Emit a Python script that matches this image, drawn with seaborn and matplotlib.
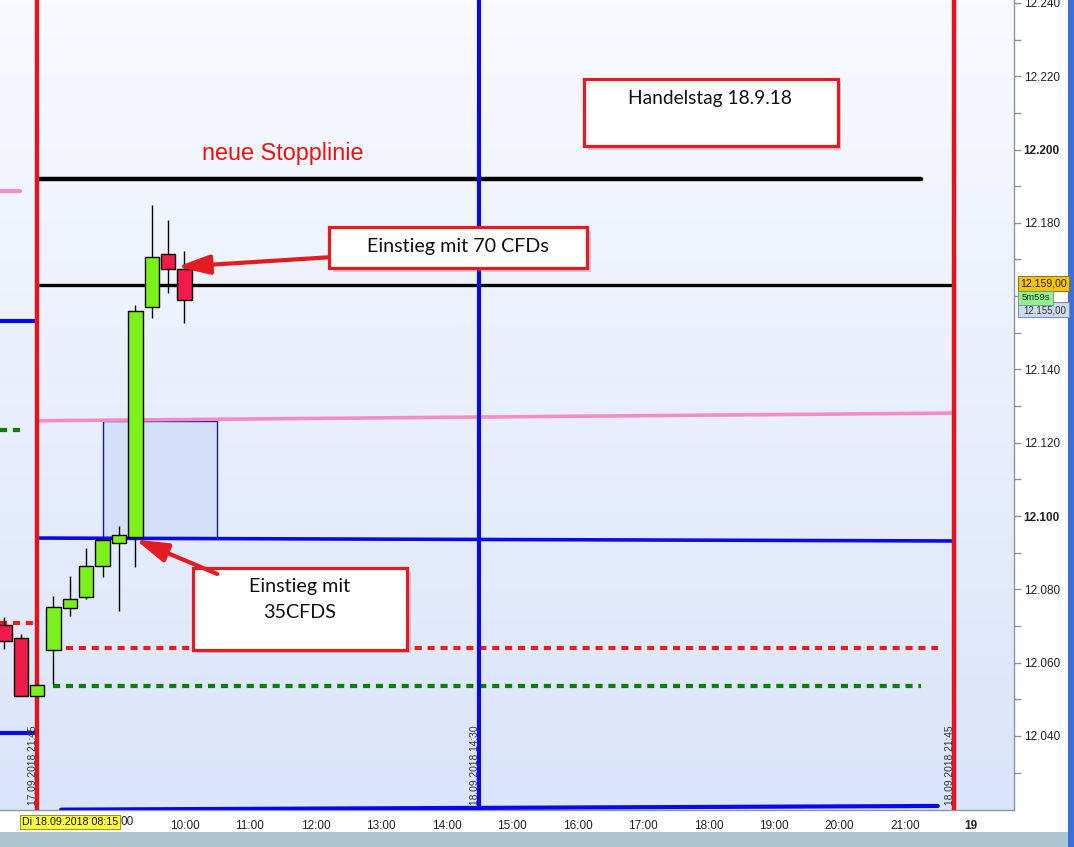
import numpy as np
import pandas as pd
import matplotlib
matplotlib.use("Agg")
import matplotlib.pyplot as plt
import seaborn as sns
from matplotlib.patches import Rectangle
from matplotlib.colors import LinearSegmentedColormap
from matplotlib.transforms import blended_transform_factory

sns.set_style("white")
plt.rcParams['font.family'] = ['Liberation Sans', 'DejaVu Sans']

# ---------------- data ----------------
bar_times = ["17.09 21:15", "17.09 21:30", "17.09 21:45",
             "18.09 08:00", "18.09 08:15", "18.09 08:30", "18.09 08:45",
             "18.09 09:00", "18.09 09:15", "18.09 09:30", "18.09 09:45", "18.09 10:00"]
opens  = [12070.3, 12066.7, 12050.9, 12063.5, 12074.9, 12077.9, 12086.4, 12092.7, 12094.3, 12157.1, 12171.5, 12167.4]
highs  = [12072.5, 12067.8, 12054.0, 12078.2, 12083.7, 12091.3, 12094.0, 12097.3, 12157.6, 12184.9, 12180.8, 12172.3]
lows   = [12063.7, 12050.9, 12050.9, 12054.2, 12072.7, 12077.5, 12083.4, 12074.1, 12086.1, 12154.1, 12160.9, 12152.7]
closes = [12065.9, 12050.9, 12053.9, 12075.2, 12077.4, 12086.4, 12093.5, 12094.8, 12156.0, 12170.7, 12167.4, 12159.0]

hour_ticks = ["08:00", "09:00", "10:00", "11:00", "12:00", "13:00", "14:00", "15:00",
              "16:00", "17:00", "18:00", "19:00", "20:00", "21:00", "22:00"]
hour_labels = ["", "", "10:00", "11:00", "12:00", "13:00", "14:00", "15:00",
               "16:00", "17:00", "18:00", "19:00", "20:00", "21:00", "19"]

y_major = [12040, 12060, 12080, 12100, 12120, 12140, 12160, 12180, 12200, 12220, 12240]
y_bold = [12100, 12200]
y_hidden = [12160]   # covered by the price tags in the original

# level lines: (start time, end time, start value, end value)
black_top = ("17.09 21:45", "18.09 21:15", 12192.0, 12192.0)
black_low = ("17.09 21:45", "18.09 21:45", 12163.1, 12163.1)
pink_line = ("17.09 21:45", "18.09 21:45", 12126.0, 12128.1)
blue_line = ("17.09 21:45", "18.09 21:45", 12094.0, 12093.2)
blue_bottom = ("18.09 08:07", "18.09 21:30", 12019.9, 12020.9)
red_dash = ("18.09 08:00", "18.09 21:30", 12064.0, 12064.0)
green_dash = ("18.09 08:00", "18.09 21:15", 12053.6, 12053.6)
prev_pink = 12188.7
prev_blue_hi = 12153.2
prev_blue_lo = 12040.8
prev_red_dash = 12070.8
prev_green_dash = 12123.5
zone = ("18.09 08:45", "18.09 10:30", 12094.0, 12126.0)

vlines_red = ["17.09 21:45", "18.09 21:45"]
vline_blue = "18.09 14:30"


def slot(t):
    day, hm = t.split()
    h, m = map(int, hm.split(":"))
    mins = h * 60 + m
    if day.startswith("17"):
        return (mins - 22 * 60) / 15.0
    return (mins - 8 * 60) / 15.0


xs = np.array([slot(t) for t in bar_times])

# ---------------- figure ----------------
W, H = 1074, 847
fig = plt.figure(figsize=(W / 100, H / 100), dpi=100)
fig.patch.set_facecolor("white")
ax = fig.add_axes([0, 37 / H, 1014 / W, 810 / H])

x0, x1 = -3.267, 58.66
y0, y1 = 12019.8, 12240.8

grad = np.linspace(0, 1, 256).reshape(-1, 1)
cmap = LinearSegmentedColormap.from_list("bg", ["#dae4fa", "#f8faff"])
ax.imshow(grad, extent=[x0, x1, y0, y1], aspect="auto", cmap=cmap, zorder=0, origin="lower")

# zone rectangle
zx0, zx1 = slot(zone[0]), slot(zone[1])
ax.add_patch(Rectangle((zx0, zone[2]), zx1 - zx0, zone[3] - zone[2],
                       facecolor="#d4e0fa", edgecolor="#1a1aa0", lw=1.0, zorder=1))

# solid level lines
def seg(spec, color, lw, z=3):
    a, b, va, vb = spec
    sns.lineplot(x=[slot(a), slot(b)], y=[va, vb], ax=ax, color=color,
                 linewidth=lw, zorder=z, legend=False)

seg(black_top, "#000000", 3.2)
seg(black_low, "#000000", 2.4)
seg(pink_line, "#f48cc6", 2.6)
seg(blue_line, "#0a0ae6", 2.6)
seg(blue_bottom, "#0a0ae6", 3.0)

dash = (0, (1.7, 1.4))
ax.plot([slot(red_dash[0]), slot(red_dash[1])], [red_dash[2], red_dash[3]],
        color="#ee1c1c", lw=3.0, linestyle=dash, zorder=3)
ax.plot([slot(green_dash[0]), slot(green_dash[1])], [green_dash[2], green_dash[3]],
        color="#0b7d0b", lw=3.0, linestyle=dash, zorder=3)

# previous-day segments
sns.lineplot(x=[x0, -2.05], y=[prev_pink, prev_pink], ax=ax, color="#f48cc6", linewidth=3.0)
sns.lineplot(x=[x0, -1.1], y=[prev_blue_hi, prev_blue_hi], ax=ax, color="#0a0ae6", linewidth=3.0)
sns.lineplot(x=[x0, -1.1], y=[prev_blue_lo, prev_blue_lo], ax=ax, color="#0a0ae6", linewidth=3.0)
ax.plot([x0, -1.1], [prev_red_dash] * 2, color="#ee1c1c", lw=3.0, linestyle=dash, zorder=3)
ax.plot([x0, -2.05], [prev_green_dash] * 2, color="#0b7d0b", lw=3.0, linestyle=dash, zorder=3)

# vertical lines
for t in vlines_red:
    ax.axvline(slot(t), color="#e4141c", lw=3.2, zorder=4)
ax.axvline(slot(vline_blue), color="#0a0ae6", lw=3.0, zorder=4)

# candles
opens_a, closes_a = np.array(opens), np.array(closes)
up = closes_a >= opens_a
ax.vlines(xs, lows, highs, color="black", lw=1.0, zorder=5)
bw = 0.88
ax.bar(xs[up], (closes_a - opens_a)[up], bottom=opens_a[up], width=bw,
       color="#7cf01c", edgecolor="black", linewidth=1.0, zorder=6)
ax.bar(xs[~up], (opens_a - closes_a)[~up], bottom=closes_a[~up], width=bw,
       color="#f01c4c", edgecolor="black", linewidth=1.0, zorder=6)

# vertical date labels
for t, lab in [(-1.27, "17.09.2018 21:45"), (25.74, "18.09.2018 14:30"), (54.77, "18.09.2018 21:45")]:
    ax.text(t, 12021.2, lab, rotation=90, ha="center", va="bottom", fontsize=7.4,
            color="#333333", zorder=7)

# annotation boxes
def box(xa, xb, ya, yb):
    dx, dy = 0.22, 1.0
    ax.add_patch(Rectangle((xa + dx, ya - dy), xb - xa, yb - ya, facecolor="#808080",
                           alpha=0.35, edgecolor="none", zorder=8))
    ax.add_patch(Rectangle((xa, ya), xb - xa, yb - ya, facecolor="white",
                           edgecolor="#e31b23", lw=2.3, zorder=9))

box_font = ["Lato", "DejaVu Sans"]
box(32.4, 47.9, 12201.0, 12219.3)
ax.text(40.1, 12214.0, "Handelstag 18.9.18", ha="center", va="center", fontsize=13.8,
        family=box_font, color="#111111", zorder=10)

box(16.82, 32.58, 12167.7, 12178.9)
ax.text(24.7, 12173.5, "Einstieg mit 70 CFDs", ha="center", va="center", fontsize=14.2,
        family=box_font, color="#111111", zorder=10)

box(8.52, 21.59, 12063.5, 12085.8)
ax.text(15.05, 12080.9, "Einstieg mit", ha="center", va="center", fontsize=14.2,
        family=box_font, color="#111111", zorder=10)
ax.text(15.05, 12073.6, "35CFDS", ha="center", va="center", fontsize=14.2,
        family=box_font, color="#111111", zorder=10)

ax.text(14.0, 12198.9, "neue Stopplinie", ha="center", va="center", fontsize=16.8,
        color="#ee1111", zorder=10)

arrow_kw = dict(arrowstyle="-|>,head_length=1.4,head_width=0.42", color="#e31b23",
                lw=3.0, mutation_scale=14, shrinkA=0, shrinkB=0)
ax.annotate("", xy=(7.55, 12168.0), xytext=(16.82, 12170.6), arrowprops=arrow_kw, zorder=11)
ax.annotate("", xy=(5.0, 12093.6), xytext=(10.0, 12084.2), arrowprops=arrow_kw, zorder=11)

# axes formatting
ax.set_xlim(x0, x1)
ax.set_ylim(y0, y1)
ax.set_xlabel("")
ax.set_ylabel("")
for s in ["top", "left"]:
    ax.spines[s].set_visible(False)
for s in ["right", "bottom"]:
    ax.spines[s].set_color("#8a96a6")
    ax.spines[s].set_linewidth(1.0)

ax.yaxis.tick_right()
ax.set_yticks(y_major)
ax.set_yticklabels(["" if v in y_hidden else f"{v/1000:.3f}" for v in y_major])
ax.set_yticks([v + 10 for v in y_major[:-1]] + [12030], minor=True)
for lab, v in zip(ax.get_yticklabels(), y_major):
    if v in y_bold:
        lab.set_fontweight("bold")
        lab.set_fontsize(9.5)
ax.tick_params(axis="y", which="both", direction="out", length=5, width=1, color="#8a96a6",
               labelsize=8.5, labelcolor="#222222", pad=2, right=True, left=False)

ax.set_xticks([slot("18.09 " + h) for h in hour_ticks])
ax.set_xticklabels(hour_labels)
ax.set_xticks([1], minor=True)
xl = ax.get_xticklabels()
xl[-1].set_fontweight("bold")
xl[-1].set_fontsize(9.5)
ax.tick_params(axis="x", which="both", direction="out", length=5, width=1, color="#8a96a6",
               labelsize=8.5, labelcolor="#222222", pad=2)
ax.grid(False)

# current bar label and the visible rest of the 09:00 label
tr = blended_transform_factory(ax.transData, ax.transAxes)
ax.text(1.0, -0.0148, "Di 18.09.2018 08:15", transform=tr, ha="center", va="center",
        fontsize=7.7, color="#111111", zorder=20, clip_on=False,
        bbox=dict(boxstyle="square,pad=0.2", facecolor="#ffff3a", edgecolor="#9a9a20", lw=0.8))
ax.text(4.08, -0.0148, "00", transform=tr, ha="left", va="center", fontsize=8.5,
        color="#222222", clip_on=False)

# figure chrome
def fx(x):
    return x / W


def fy(y):
    return 1 - y / H


fig.add_artist(Rectangle((0, 0), 1, fy(832), transform=fig.transFigure,
                         facecolor="#abc6d0", edgecolor="none", zorder=0))
fig.add_artist(Rectangle((fx(1068), 0), fx(6), 1, transform=fig.transFigure,
                         facecolor="#3c6fd8", edgecolor="none", zorder=1))

# price tags on the right
fig.add_artist(Rectangle((fx(1018), fy(317)), fx(51), 15 / H, transform=fig.transFigure,
                         facecolor="#cfdaf0", edgecolor="#7f8fb0", lw=0.8, zorder=5))
fig.text(fx(1066), fy(310.5), "12.155,00", ha="right", va="center", fontsize=7.0,
         color="#333333", zorder=6)
fig.add_artist(Rectangle((fx(1018), fy(291)), fx(51), 15 / H, transform=fig.transFigure,
                         facecolor="#f6c40a", edgecolor="#8a7a30", lw=0.8, zorder=7))
fig.text(fx(1043.5), fy(283.5), "12.159,00", ha="center", va="center", fontsize=7.6,
         color="#222222", zorder=8)
fig.add_artist(Rectangle((fx(1018), fy(305)), fx(35), 14 / H, transform=fig.transFigure,
                         facecolor="#96ec96", edgecolor="#60a060", lw=0.6, zorder=9))
fig.text(fx(1035.5), fy(297.5), "5m59s", ha="center", va="center", fontsize=6.8,
         color="#113311", zorder=10)

fig.savefig("out.png", dpi=100)
